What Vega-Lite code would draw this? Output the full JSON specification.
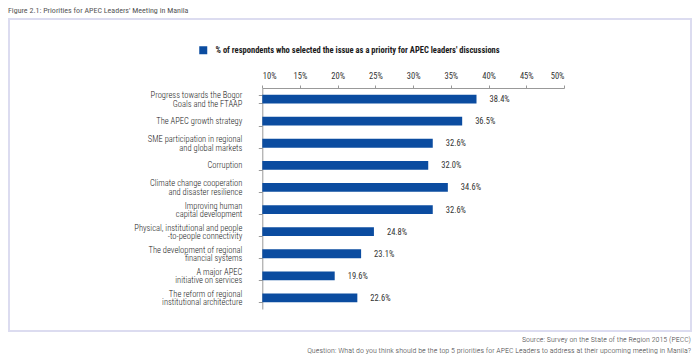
{
  "$schema": "https://vega.github.io/schema/vega-lite/v6.json",
  "padding": {"left": 8, "top": 7, "right": 10, "bottom": 0},
  "background": "white",
  "title": {"text": "Figure 2.1: Priorities for APEC Leaders' Meeting in Manila", "anchor": "start", "fontSize": 8, "fontWeight": "normal", "color": "#555555", "offset": 3, "frame": "bounds"},
  "config": {"view": {"stroke": "#dcdcf0", "strokeWidth": 2}, "font": "'Roboto Condensed', 'Noto Sans Condensed', 'Open Sans Condensed', 'DejaVu Sans Condensed', Roboto, sans-serif"},
  "vconcat": [
    {
      "width": 682,
      "height": 312,
      "title": {"text": ["Source: Survey on the State of the Region 2015 (PECC)", "Question: What do you think should be the top 5 priorities for APEC Leaders to address at their upcoming meeting in Manila?"], "orient": "bottom", "anchor": "end", "frame": "group", "fontSize": 8, "fontWeight": 300, "color": "#444444", "offset": 5, "lineHeight": 10.5, "align": "right"},
      "data": {"values": [
        {"issue": "Progress towards the Bogor|Goals and the FTAAP", "value": 0.384},
        {"issue": "The APEC growth strategy", "value": 0.365},
        {"issue": "SME participation in regional|and global markets", "value": 0.326},
        {"issue": "Corruption", "value": 0.320},
        {"issue": "Climate change cooperation|and disaster resilience", "value": 0.346},
        {"issue": "Improving human|capital development", "value": 0.326},
        {"issue": "Physical, institutional and people|-to-people connectivity", "value": 0.248},
        {"issue": "The development of regional|financial systems", "value": 0.231},
        {"issue": "A major APEC|initiative on services", "value": 0.196},
        {"issue": "The reform of regional|institutional architecture", "value": 0.226}
      ]},
      "encoding": {
        "y": {"field": "issue", "type": "nominal", "sort": null,
          "scale": {"range": [69, 290], "paddingInner": 0.6, "paddingOuter": 0.3},
          "axis": {"orient": "left", "offset": -253.3, "title": null, "tickBand": "extent", "tickSize": 4, "labels": false,
            "domainColor": "#999999", "tickColor": "#999999"}},
        "x": {"field": "value", "type": "quantitative",
          "scale": {"domain": [0.1, 0.5], "range": [253.3, 555], "zero": false, "nice": false},
          "axis": {"orient": "top", "offset": -69, "title": null, "values": [0.1, 0.15, 0.2, 0.25, 0.3, 0.35, 0.4, 0.45, 0.5], "format": ".0%", "tickSize": 3, "labelFontSize": 8.5, "labelColor": "#333333", "domainColor": "#999999", "tickColor": "#999999", "grid": false, "labelPadding": 5}}
      },
      "layer": [
        {"mark": {"type": "bar"},
         "encoding": {
           "x2": {"datum": 0.1},
           "color": {"datum": "% of respondents who selected the issue as a priority for APEC leaders' discussions", "type": "nominal",
             "scale": {"range": ["#0b4ca0"]},
             "legend": {"orient": "none", "legendX": 190, "legendY": 27, "title": null, "symbolType": "square", "symbolSize": 64, "symbolStrokeWidth": 0, "labelFontSize": 8.5, "labelFontWeight": "bold", "labelColor": "#1a1a1a", "padding": 0, "labelOffset": 8, "labelLimit": 0}}
         }},
        {"mark": {"type": "text", "align": "left", "dx": 13, "fontSize": 8.5, "color": "#333333"},
         "encoding": {"text": {"field": "value", "type": "quantitative", "format": ".1%"}}},
        {"mark": {"type": "text", "align": "right", "baseline": "middle", "dx": -20, "fontSize": 8.5, "fontWeight": 300, "lineHeight": 8.5, "color": "#1a1a1a",
           "text": {"expr": "split(datum.issue, '|')"},
           "dy": {"expr": "indexof(datum.issue, '|') >= 0 ? -4 : 0"}},
         "encoding": {"x": {"datum": 0.1}}}
      ]
    }
  ]
}
